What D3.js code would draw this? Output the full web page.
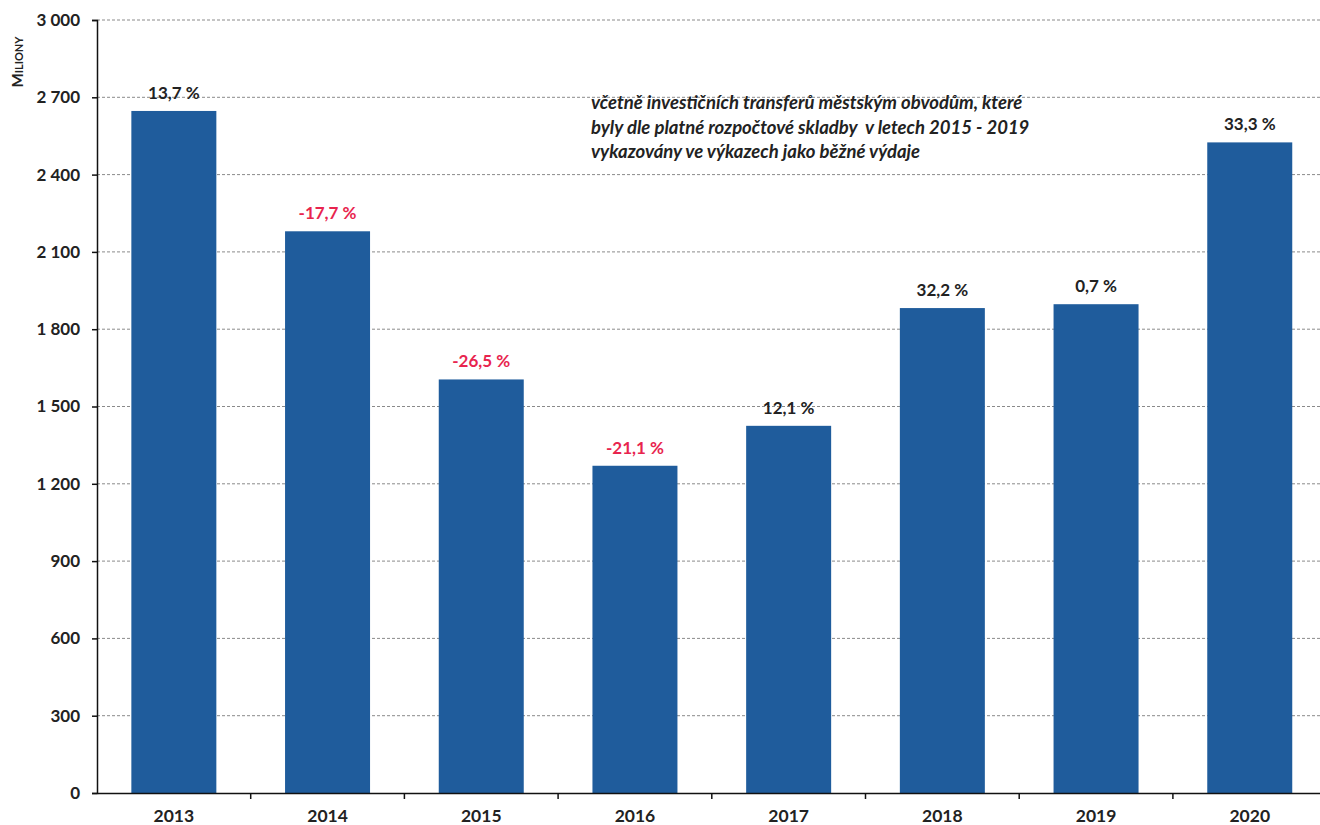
<!DOCTYPE html>
<html><head><meta charset="utf-8">
<script src="https://cdn.jsdelivr.net/npm/d3@7"></script>
<style>
body{margin:0;background:#fff;}
text{font-family:Lato,"Open Sans",sans-serif;}
</style></head>
<body><svg id="c" width="1320" height="825"></svg>
<script>
const years = ["2013","2014","2015","2016","2017","2018","2019","2020"];
const values = [2647, 2180, 1605, 1270, 1425, 1882, 1897, 2525];
const changes = ["13,7 %","-17,7 %","-26,5 %","-21,1 %","12,1 %","32,2 %","0,7 %","33,3 %"];
const negative = [false,true,true,true,false,false,false,false];
const yTicks = [0,300,600,900,1200,1500,1800,2100,2400,2700,3000];
const noteLines = ["včetně investičních transferů městským obvodům, které",
  "byly dle platné rozpočtové skladby  v letech 2015 - 2019",
  "vykazovány ve výkazech jako běžné výdaje"];

const svg = d3.select("#c");
const x0 = 97, yBase = 793, yTop = 20;
const x = d3.scaleBand().domain(years).range([x0, x0 + 8*153.7]).paddingInner(0.447).paddingOuter(0.2235);
const y = d3.scaleLinear().domain([0,3000]).range([yBase, yTop]);
const fmt = v => d3.format(",")(v).replace(/,/g, " ");

// gridlines
svg.append("g").selectAll("line").data(yTicks.filter(d=>d>0)).join("line")
  .attr("x1", x0).attr("x2", 1320).attr("y1", d=>y(d)).attr("y2", d=>y(d))
  .attr("stroke", "#8a8a8a").attr("stroke-width", 1).attr("stroke-dasharray", "3,2");

// bars
svg.append("g").selectAll("rect").data(years).join("rect")
  .attr("x", d=>x(d)).attr("width", x.bandwidth())
  .attr("y", (d,i)=>y(values[i])).attr("height", (d,i)=>yBase - y(values[i]))
  .attr("fill", "#1f5c9c");

// y axis
const ya = svg.append("g").attr("transform", `translate(${x0},0)`)
  .call(d3.axisLeft(y).tickValues(yTicks).tickSize(5).tickPadding(12).tickFormat(fmt));
ya.select(".domain").attr("stroke", "#111").attr("stroke-width", 1.5);
ya.selectAll(".tick line").attr("stroke", "#111").attr("stroke-width", 1.5);
ya.selectAll("text").attr("font-size", 17).attr("font-weight", "bold").attr("fill", "#222")
  .attr("font-family", "Lato,sans-serif").style("white-space", "pre");

// x axis
const xa = svg.append("g").attr("transform", `translate(0,${yBase})`)
  .call(d3.axisBottom(x).tickSize(0).tickPadding(17));
xa.select(".domain").attr("stroke", "#111").attr("stroke-width", 1.5);
xa.selectAll("text").attr("font-size", 17.5).attr("font-weight", "bold").attr("fill", "#222")
  .attr("font-family", "Lato,sans-serif");
// separator ticks between categories
const step = x.step();
svg.append("g").selectAll("line").data(d3.range(1, years.length)).join("line")
  .attr("x1", i => x0 + i*step).attr("x2", i => x0 + i*step)
  .attr("y1", yBase).attr("y2", yBase + 6).attr("stroke", "#111").attr("stroke-width", 1.5);

// percentage labels
svg.append("g").selectAll("text").data(years).join("text")
  .attr("x", d => x(d) + x.bandwidth()/2).attr("y", (d,i)=>y(values[i]) - 12)
  .attr("text-anchor", "middle").attr("font-size", 17).attr("font-weight", "bold")
  .attr("fill", (d,i)=>negative[i] ? "#e8244e" : "#222")
  .text((d,i)=>changes[i]);

// y-axis title
svg.append("text").attr("transform", "translate(23,62) rotate(-90)")
  .attr("text-anchor", "middle").attr("font-weight", "bold").attr("fill", "#222")
  .attr("font-size", 15).attr("font-variant", "small-caps").text("Miliony");

// note
svg.append("g").selectAll("text").data(noteLines).join("text")
  .attr("x", 591).attr("y", (d,i)=>109 + i*24.5)
  .attr("font-size", 18.5).attr("font-weight", "bold").attr("font-style", "italic").attr("fill", "#222")
  .style("white-space", "pre")
  .text(d=>d);
</script></body></html>
